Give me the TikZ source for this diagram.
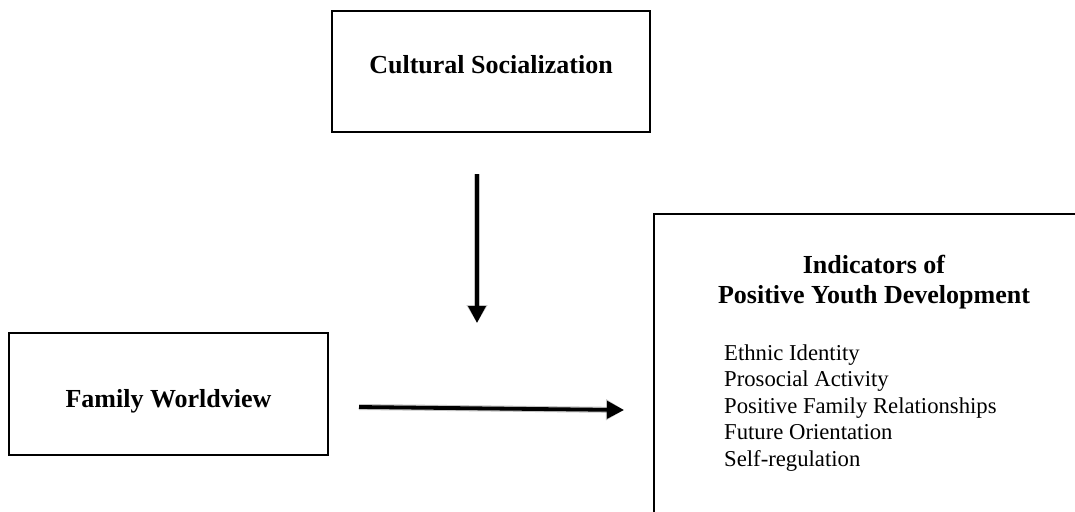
\documentclass[tikz,border=0pt]{standalone}
\usepackage{fontspec}
\setmainfont{Liberation Serif}
\usetikzlibrary{arrows.meta}
\begin{document}
\begin{tikzpicture}[x=1pt,y=-1pt,
  boxframe/.style={draw=black,line width=1.5pt,fill=white},
  headtxt/.style={inner sep=0pt,font=\fontsize{26}{30}\selectfont\bfseries},
  itemtxt/.style={inner sep=0pt,anchor=base west,font=\fontsize{22.7}{26.5}\selectfont},
  flowarrow/.style={line width=3.8pt,-{Triangle[length=17pt,width=17pt]}},
  arrowshade/.style={line width=6pt,draw=black,opacity=0.12,-{Triangle[length=18pt,width=20pt]}}
]
\useasboundingbox (0,0) rectangle (1075,511);
\clip (0,0) rectangle (1075,511);
\fill[white] (0,0) rectangle (1075,511);

% boxes
\draw[boxframe] (332,11) rectangle (650,132);
\draw[boxframe] (9,333) rectangle (328,455);
\draw[boxframe] (654,214) rectangle (1100,540);

% box texts
\node[headtxt,anchor=base] (cs) at (491,74) {Cultural Socialization};
\node[headtxt,anchor=base] (fw) at (168.5,407) {Family Worldview};
\node[headtxt,anchor=base] (pyd1) at (874,273) {Indicators of};
\node[headtxt,anchor=base] (pyd2) at (874,303) {Positive Youth Development};

\node[itemtxt] (i1) at (724,360) {Ethnic Identity};
\node[itemtxt] (i2) at (724,386.5) {Prosocial Activity};
\node[itemtxt] (i3) at (724,413) {Positive Family Relationships};
\node[itemtxt] (i4) at (724,439.5) {Future Orientation};
\node[itemtxt] (i5) at (724,466) {Self-regulation};

% arrow end points
\coordinate (vs) at (477,174);
\coordinate (ve) at (477,323);
\coordinate (hs) at (359,407);
\coordinate (he) at (624,410);

% shadows
\begin{scope}[shift={(3,3.5)}]
  \draw[arrowshade] (vs) -- (ve);
  \draw[arrowshade] (hs) -- (he);
\end{scope}
\begin{scope}[shift={(2,2.5)}]
  \draw[arrowshade] (vs) -- (ve);
  \draw[arrowshade] (hs) -- (he);
\end{scope}

% arrows
\draw[flowarrow] (vs) -- (ve);
\draw[flowarrow] (hs) -- (he);
\end{tikzpicture}
\end{document}
